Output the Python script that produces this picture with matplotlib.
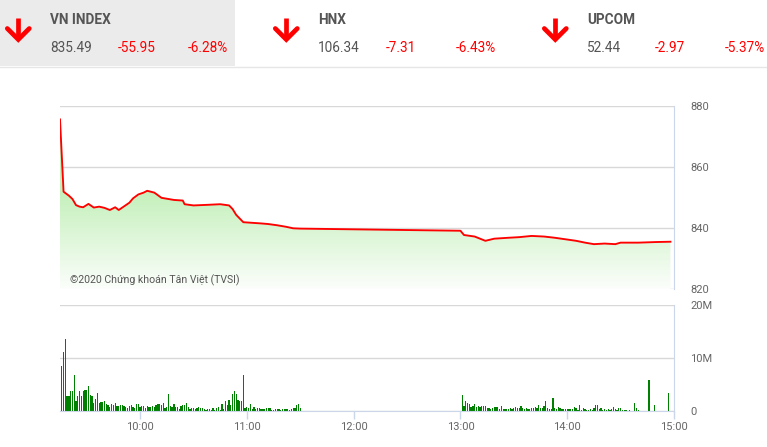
import numpy as np
import matplotlib.pyplot as plt
from matplotlib.colors import LinearSegmentedColormap
from matplotlib.patches import Rectangle

plt.rcParams['font.family'] = ['Roboto', 'DejaVu Sans']

# header boxes
index_names = ["VN INDEX", "HNX", "UPCOM"]
index_values = [835.49, 106.34, 52.44]
index_changes = [-55.95, -7.31, -2.97]
index_pct = [-6.28, -6.43, -5.37]

# VN-Index intraday (time, points)
price_times = ["09:15", "09:17", "09:20", "09:22", "09:24", "09:26", "09:28", "09:31",
               "09:34", "09:37", "09:40", "09:43", "09:46", "09:48", "09:52", "09:54",
               "09:56", "09:59", "10:02", "10:04", "10:08", "10:12", "10:15", "10:19",
               "10:24", "10:25", "10:30", "10:38", "10:45", "10:50", "10:52", "10:54",
               "10:58", "11:08", "11:12", "11:17", "11:22", "11:26", "11:30", "13:00",
               "13:02", "13:08", "13:14", "13:19", "13:27", "13:33", "13:40", "13:47",
               "13:53", "13:59", "14:05", "14:10", "14:15", "14:21", "14:27", "14:30",
               "14:40", "14:50", "14:58"]
price_values = [875.6, 851.9, 850.6, 849.5, 847.5, 847.0, 846.8, 847.9,
                846.7, 847.0, 846.6, 845.9, 846.8, 845.9, 847.5, 848.3,
                849.7, 851.0, 851.6, 852.2, 851.6, 849.9, 849.6, 849.2,
                849.0, 847.8, 847.4, 847.6, 847.8, 847.4, 846.2, 844.3,
                841.9, 841.5, 841.3, 840.9, 840.4, 839.9, 839.8, 839.1,
                837.7, 837.2, 835.8, 836.5, 836.8, 837.0, 837.4, 837.2,
                836.8, 836.3, 835.8, 835.2, 834.7, 834.9, 834.7, 835.2,
                835.2, 835.4, 835.5]

# matched volume per minute, millions
am_start = "09:16"
am_volume = [8.5, 11.2, 13.5, 2.8, 2.8, 3.8, 3.8, 6.8, 1.9, 2.8,
             3.8, 2.8, 3.8, 4.0, 4.0, 4.7, 3.0, 2.8, 1.5, 2.3,
             3.4, 1.5, 1.7, 1.7, 1.9, 1.3, 1.1, 0.8, 1.3, 1.1,
             1.5, 0.9, 0.9, 1.1, 1.1, 0.9, 0.8, 0.6, 0.9, 1.1,
             0.8, 0.6, 1.3, 1.3, 0.8, 0.9, 0.9, 0.6, 0.9, 0.8,
             0.8, 0.9, 0.8, 1.1,
             1.4, 1.4, 1.2, 1.6, 0.6, 0.8, 3.3, 1.0, 0.8, 1.4,
             0.8, 0.8, 0.4, 1.0, 1.2, 1.2, 1.6, 0.8, 0.4, 0.6,
             0.6, 0.4, 0.6, 0.8, 0.6, 0.6, 0.4, 0.25, 0.4, 0.4,
             0.25, 0.6, 0.25, 0.6, 0.8, 0.25, 1.4, 0.4, 1.8, 1.2,
             2.1, 1.2, 3.3, 3.8, 3.3, 2.1, 1.8, 1.8, 6.7, 0.6,
             0.8, 0.6, 1.4, 0.4, 0.8, 0.4, 0.6, 0.6, 0.4, 0.4,
             0.4, 0.6, 0.6, 0.6, 0.25, 0.25, 0.4, 0.4, 0.4, 0.25,
             0.4, 0.4, 0.4, 0.4, 0.25, 0.4, 0.6, 0.6, 1.2, 1.4,
             0.6]
pm_start = "13:01"
pm_volume = [3.1, 0.9, 1.8, 1.6, 1.3, 0.7, 0.9, 1.4, 0.7, 0.9,
             0.7, 0.9, 0.9, 0.9, 0.5, 0.5, 0.3, 0.5, 0.7, 0.7,
             0.7, 0.3, 0.9, 0.3, 0.3, 0.3, 0.3, 0.5, 0.3, 0.5,
             0.7, 0.5, 0.5, 0.9, 0.5, 0.3, 0.5, 0.3, 0.3, 0.5,
             0.5, 0.7, 0.5, 1.1, 0.5, 0.5, 0.9, 1.8, 0.5, 0.3,
             0.3, 2.4, 0.5, 0.3, 0.7, 0.5, 0.3, 0.3, 0.3,
             0.4, 0.4, 0.4, 0.4, 0.75, 0.6, 0.2, 1.1, 0.2, 0.6,
             0.4, 0.2, 0.2, 0.4, 0.2, 0.6, 1.1, 1.1, 0.4, 0.6,
             0.2, 0.4, 0.2, 0.4, 0.2, 0.4, 0.75, 0.4, 0.2, 0.6,
             0.6, 0.2, 0.2, 0.2]
late_times = ["14:35", "14:38", "14:39", "14:40", "14:46", "14:49", "14:57"]
late_volume = [0.2, 1.5, 0.6, 0.2, 5.85, 1.1, 3.4]

hour_ticks = [10, 11, 12, 13, 14, 15]


def hours(t):
    h, m = t.split(':')
    return int(h) + int(m) / 60


W, H = 767, 447


def box(l, t, r, b):
    return [l / W, 1 - b / H, (r - l) / W, (b - t) / H]


fig = plt.figure(figsize=(W / 100, H / 100), dpi=100)
grey = '#666666'
axis_blue = '#ccd6eb'
grid_grey = '#d8d8d8'
x0, x1 = 9.25, 15.0

# price panel
ax_p = fig.add_axes(box(60, 106, 674, 289))
px = [hours(t) for t in price_times]
ax_p.plot(px, price_values, color='#ff0000', lw=1.35, zorder=3)
area = ax_p.fill_between(px, price_values, 820, color='none', lw=0)
rows = np.linspace(880, 820, 300)
shade = np.clip((rows - 818) / 34, 0, 1).reshape(-1, 1)
cmap = LinearSegmentedColormap.from_list('fade', ['#ffffff', '#c4f0bb'])
im = ax_p.imshow(shade, cmap=cmap, vmin=0, vmax=1, aspect='auto',
                 extent=[x0, x1, 820, 880], origin='upper', zorder=2)
im.set_clip_path(area.get_paths()[0], transform=ax_p.transData)
ax_p.set_xlim(x0, x1)
ax_p.set_ylim(820, 880)
ax_p.set_xticks([])
ax_p.set_yticks([820, 840, 860, 880])
ax_p.yaxis.tick_right()
ax_p.tick_params(axis='y', length=0, pad=11.5, labelsize=8, labelcolor=grey)
ax_p.grid(axis='y', color=grid_grey, lw=1)
ax_p.set_axisbelow(True)
for s in ['top', 'left', 'bottom']:
    ax_p.spines[s].set_visible(False)
ax_p.spines['right'].set_color(axis_blue)
ax_p.text(0.016, 0.05, "©2020 Chứng khoán Tân Việt (TVSI)", transform=ax_p.transAxes,
          fontsize=7.6, color='#555555', va='center', zorder=4)

# volume panel
ax_v = fig.add_axes(box(60, 305, 674, 411))
start = hours(am_start)
am_x = [start + i / 60 for i in range(len(am_volume))]
start = hours(pm_start)
pm_x = [start + i / 60 for i in range(len(pm_volume))]
late_x = [hours(t) for t in late_times]
bw = 0.7 / 60
ax_v.bar(am_x, am_volume, width=bw, color='#008000', lw=0, zorder=3)
ax_v.bar(pm_x, pm_volume, width=bw, color='#008000', lw=0, zorder=3)
ax_v.bar(late_x, late_volume, width=bw, color='#008000', lw=0, zorder=3)
ax_v.set_xlim(x0, x1)
ax_v.set_ylim(0, 20)
ax_v.set_yticks([0, 10, 20])
ax_v.set_yticklabels(['0', '10M', '20M'])
ax_v.yaxis.tick_right()
ax_v.tick_params(axis='y', length=0, pad=11.5, labelsize=8, labelcolor=grey)
ax_v.set_xticks(hour_ticks)
ax_v.set_xticklabels([f"{h}:00" for h in hour_ticks])
ax_v.tick_params(axis='x', length=6, width=1, color=axis_blue, pad=2,
                 labelsize=8, labelcolor=grey)
ax_v.grid(axis='y', color=grid_grey, lw=1)
ax_v.set_axisbelow(True)
for s in ['top', 'left']:
    ax_v.spines[s].set_visible(False)
ax_v.spines['right'].set_color(axis_blue)
ax_v.spines['bottom'].set_color(axis_blue)
ax_v.spines['bottom'].set_zorder(4)

# header strip
ax_h = fig.add_axes([0, 0, 1, 1])
ax_h.set_xlim(0, W)
ax_h.set_ylim(H, 0)
ax_h.axis('off')
ax_h.add_patch(Rectangle((0, 0), 235, 66, color='#ebebeb', lw=0))
ax_h.plot([0, W], [66.5, 66.5], color='#e6e6e6', lw=1)
for i, off in enumerate([0, 268, 537]):
    cx = 18.3 + off
    ax_h.plot([cx, cx], [18, 38], color='#ff0000', lw=3.4, solid_capstyle='butt')
    ax_h.plot([cx - 11, cx, cx + 11], [28.5, 39.5, 28.5], color='#ff0000', lw=3.4,
              solid_capstyle='round', solid_joinstyle='miter')
    ax_h.text(50 + off, 19.5, index_names[i], fontsize=9.8, fontweight='bold',
              color='#555555', va='center')
    ax_h.text(50 + off, 48, f"{index_values[i]:.2f}", fontsize=9.8, color='#555555', va='center')
    ax_h.text(118 + off, 48, f"{index_changes[i]:.2f}", fontsize=9.8, color='#ff0000', va='center')
    ax_h.text(188 + off, 48, f"{index_pct[i]:.2f}%", fontsize=9.8, color='#ff0000', va='center')

fig.savefig('out.png', dpi=100)
